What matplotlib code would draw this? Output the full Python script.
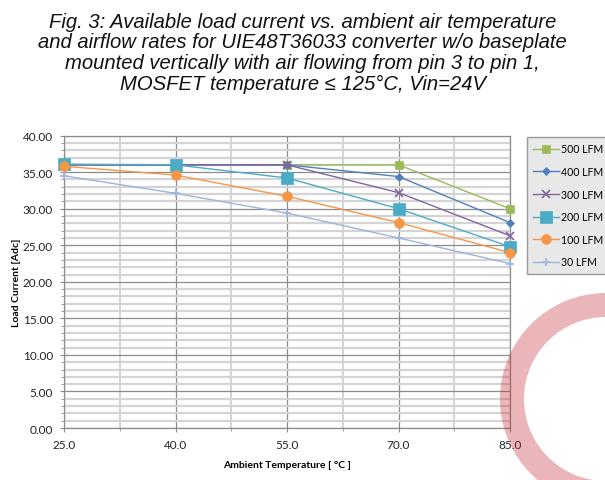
import matplotlib.pyplot as plt
from matplotlib.patches import Wedge
from matplotlib.ticker import MultipleLocator, FixedLocator, FormatStrFormatter

# data
temps = [25.0, 40.0, 55.0, 70.0, 85.0]
lfm500 = [36.0, 36.0, 36.0, 36.0, 30.0]
lfm400 = [36.0, 36.0, 36.0, 34.4, 28.1]
lfm300 = [36.0, 36.0, 36.0, 32.2, 26.3]
lfm200 = [36.1, 36.0, 34.2, 30.0, 24.8]
lfm100 = [35.8, 34.6, 31.7, 28.1, 24.0]
lfm30 = [34.5, 32.1, 29.4, 26.0, 22.5]

series = [
    ('500 LFM', lfm500, '#9BBB59', 's', 6),
    ('400 LFM', lfm400, '#4F81BD', 'D', 4.5),
    ('300 LFM', lfm300, '#8064A2', 'x', 6),
    ('200 LFM', lfm200, '#4BACC6', 's', 8),
    ('100 LFM', lfm100, '#F79646', 'o', 7),
    ('30 LFM', lfm30, '#9DB5DE', '+', 6),
]

title = ("Fig. 3: Available load current vs. ambient air temperature\n"
         "and airflow rates for UIE48T36033 converter w/o baseplate\n"
         "mounted vertically with air flowing from pin 3 to pin 1,\n"
         "MOSFET temperature \u2264 125\u00b0C, Vin=24V")

fig = plt.figure(figsize=(6.05, 4.81), dpi=100)
ax = fig.add_axes([0.106, 0.108, 0.737, 0.608])

for name, vals, col, mk, ms in series:
    ax.plot(temps, vals, color=col, marker=mk, markersize=ms, lw=1.0,
            markeredgewidth=1.2 if mk in ('x', '+') else 0.5,
            label=name, zorder=3, clip_on=False)

ax.set_xlim(temps[0], temps[-1])
ax.set_ylim(0, 40)
ax.xaxis.set_major_locator(FixedLocator(temps))
ax.xaxis.set_minor_locator(FixedLocator(
    [(a + b) / 2 for a, b in zip(temps[:-1], temps[1:])]))
ax.yaxis.set_major_locator(MultipleLocator(5))
ax.yaxis.set_minor_locator(MultipleLocator(1))
ax.xaxis.set_major_formatter(FormatStrFormatter('%.1f'))
ax.yaxis.set_major_formatter(FormatStrFormatter('%.2f'))

ax.grid(which='minor', axis='y', color='#D4D4D4', lw=1.6, zorder=0)
ax.grid(which='minor', axis='x', color='#D4D4D4', lw=1.4, zorder=0)
ax.grid(which='major', color='#8C8C8C', lw=0.9, zorder=1)
ax.set_axisbelow(True)
for s in ax.spines.values():
    s.set_color('#8C8C8C')
    s.set_linewidth(0.9)

ax.tick_params(which='major', length=3, color='#8C8C8C', labelsize=8.5,
               labelcolor='#222222', pad=5)
ax.tick_params(which='minor', length=2, color='#8C8C8C')
for lab in ax.get_xticklabels() + ax.get_yticklabels():
    lab.set_family('Lato')

ax.set_xlabel('Ambient Temperature [ \u00b0C ]', fontsize=7.5, fontweight='bold',
              family='Lato', labelpad=7)
ax.set_ylabel('Load Current [Adc]', fontsize=7.5, fontweight='bold',
              family='Lato', labelpad=1)

leg = fig.legend(loc='upper left', bbox_to_anchor=(0.871, 0.713),
                 frameon=True, fancybox=False, edgecolor='#9A9A9A',
                 facecolor='#E8E8E8', framealpha=1.0,
                 prop={'family': 'Lato', 'size': 7.6},
                 labelspacing=1.1, handlelength=2.4, borderpad=0.6,
                 borderaxespad=0, handletextpad=0.25)

fig.text(0.5, 0.973, title, ha='center', va='top', fontsize=14.6,
         style='italic', family='Liberation Sans', linespacing=1.1,
         color='#111111')

# pink ring watermark in the lower right corner
ring = Wedge((606, 481 - 400), 106, 0, 360, width=24,
             transform=None, facecolor=(0.78, 0.16, 0.2), alpha=0.34,
             edgecolor='none', zorder=10)
fig.patches.append(ring)

fig.savefig('out.png', dpi=100)
